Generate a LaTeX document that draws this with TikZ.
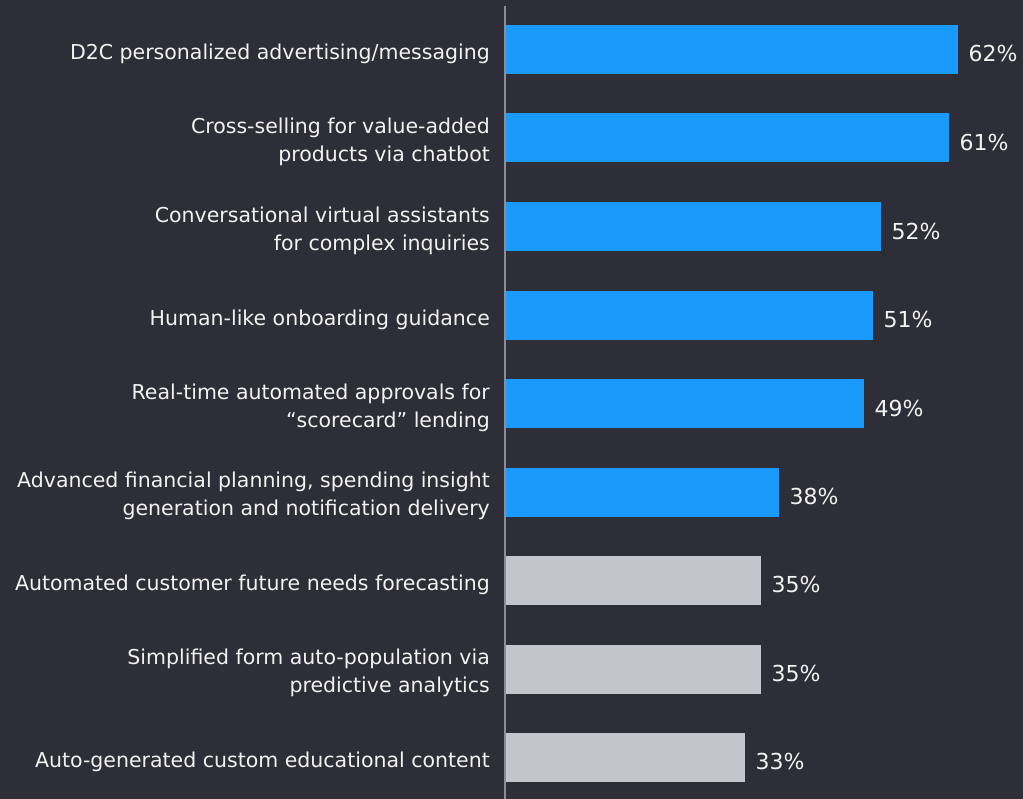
\documentclass[tikz,border=0pt]{standalone}
\usepackage{fontspec}
\setmainfont{DejaVu Sans}
\usetikzlibrary{positioning}
\definecolor{eydark}{HTML}{2E2E38}
\definecolor{eyblue}{HTML}{1A9AFA}
\definecolor{eygrey}{HTML}{C4C4CD}
\definecolor{eyaxis}{HTML}{8C8C96}
\definecolor{eytext}{HTML}{F2F2F2}

\begin{document}
\begin{tikzpicture}[x=1pt,y=-1pt,
  bluebar/.style={fill=eyblue,inner sep=0pt,minimum height=49pt,anchor=west},
  greybar/.style={fill=eygrey,inner sep=0pt,minimum height=49pt,anchor=west},
  lab/.style={text=eytext,align=right,inner sep=0pt,yshift=-4pt,font=\fontsize{20.5}{27.5}\selectfont},
  val/.style={text=eytext,inner sep=0pt,yshift=-4pt,font=\fontsize{22}{22}\selectfont}]
\useasboundingbox[fill=eydark] (0,0) rectangle (1023,799);
%\draw[help lines] (0,0) grid[step=50] (1023,799);
\node[bluebar,minimum width=453pt] (Bar1) at (505,49.5) {};
\node[bluebar,minimum width=444pt] (Bar2) at (505,138) {};
\node[bluebar,minimum width=376pt] (Bar3) at (505,227) {};
\node[bluebar,minimum width=368pt] (Bar4) at (505,315.5) {};
\node[bluebar,minimum width=359pt] (Bar5) at (505,404) {};
\node[bluebar,minimum width=274pt] (Bar6) at (505,492) {};
\node[greybar,minimum width=256pt] (Bar7) at (505,580.5) {};
\node[greybar,minimum width=256pt] (Bar8) at (505,669) {};
\node[greybar,minimum width=240pt] (Bar9) at (505,757.5) {};

\node[lab,left=15pt of Bar1] (Lab1) {D2C personalized advertising/messaging};
\node[lab,left=15pt of Bar2] (Lab2) {Cross-selling for value-added\\ products via chatbot};
\node[lab,left=15pt of Bar3] (Lab3) {Conversational virtual assistants\\ for complex inquiries};
\node[lab,left=15pt of Bar4] (Lab4) {Human-like onboarding guidance};
\node[lab,left=15pt of Bar5] (Lab5) {Real-time automated approvals for\\ ``scorecard'' lending};
\node[lab,left=15pt of Bar6] (Lab6) {Advanced financial planning, spending insight\\ generation and notification delivery};
\node[lab,left=15pt of Bar7] (Lab7) {Automated customer future needs forecasting};
\node[lab,left=15pt of Bar8] (Lab8) {Simplified form auto-population via\\ predictive analytics};
\node[lab,left=15pt of Bar9] (Lab9) {Auto-generated custom educational content};

\node[val,right=10pt of Bar1] (Val1) {62\%};
\node[val,right=10pt of Bar2] (Val2) {61\%};
\node[val,right=10pt of Bar3] (Val3) {52\%};
\node[val,right=10pt of Bar4] (Val4) {51\%};
\node[val,right=10pt of Bar5] (Val5) {49\%};
\node[val,right=10pt of Bar6] (Val6) {38\%};
\node[val,right=10pt of Bar7] (Val7) {35\%};
\node[val,right=10pt of Bar8] (Val8) {35\%};
\node[val,right=10pt of Bar9] (Val9) {33\%};

\coordinate (AxTop) at (505,6);
\coordinate (AxBot) at (505,799);
\draw[eyaxis,line width=1.5pt] (AxTop) -- (AxBot);
\end{tikzpicture}
\end{document}
